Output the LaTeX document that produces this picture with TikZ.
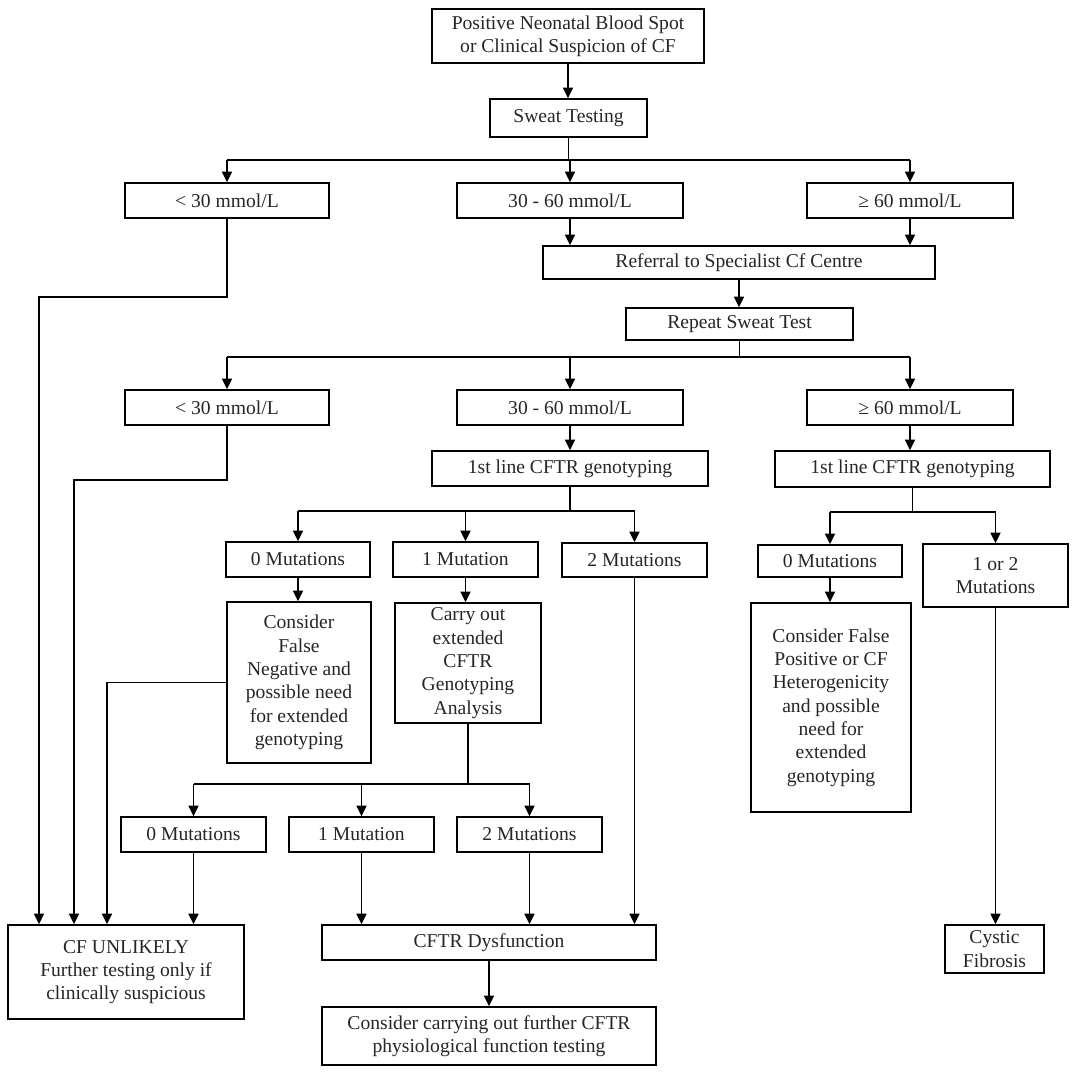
\documentclass[tikz,border=0pt]{standalone}
\usepackage{fontspec}
\setmainfont{Liberation Serif}
\usetikzlibrary{arrows.meta,calc}
\tikzset{
  box/.style={draw, line width=1.1pt, inner sep=0pt, align=center,
    font=\fontsize{14.7}{17.5}\selectfont, text=black!85},
  ln/.style={line width=1.1pt},
  arr/.style={-{Triangle[length=8pt,width=7.5pt]}},
}
\newcommand\bx[6]{\node[box, minimum width={(#4-#2)*0.75pt}, minimum height={(#5-#3)*0.75pt}] (#1) at ({(#2+#4)/2},{(#3+#5)/2}) {#6};}
\begin{document}
\begin{tikzpicture}[x=0.75pt,y=-0.75pt]
\fill[white] (0,0) rectangle (1084,1071);
\useasboundingbox (0,0) rectangle (1084,1071);
% nodes
\bx{top}{432}{9}{704}{63}{Positive Neonatal Blood Spot\\or Clinical  Suspicion of CF}
\bx{sweat}{490}{99}{647}{137}{Sweat Testing}
\bx{a1}{125}{183}{329}{218}{< 30 mmol/L}
\bx{a2}{457}{183}{683}{218}{30 - 60 mmol/L}
\bx{a3}{807}{183}{1013}{218}{≥ 60 mmol/L}
\bx{ref}{543}{246}{935}{279}{Referral to Specialist Cf Centre}
\bx{rep}{626}{308}{853}{340}{Repeat Sweat  Test}
\bx{b1}{125}{390}{329}{425}{< 30 mmol/L}
\bx{b2}{457}{390}{683}{425}{30 - 60 mmol/L}
\bx{b3}{807}{390}{1013}{425}{≥ 60 mmol/L}
\bx{g1}{432}{451}{708}{486}{1st line  CFTR genotyping}
\bx{g2}{775}{451}{1050}{487}{1st line  CFTR genotyping}
\bx{m0}{226}{542}{370}{577}{0 Mutations}
\bx{m1}{393}{542}{538}{577}{1 Mutation}
\bx{m2}{562}{543}{707}{577}{2 Mutations}
\bx{r0}{758}{545}{902}{577}{0 Mutations}
\bx{r12}{923}{544}{1068}{607}{1 or 2\\Mutations}
\bx{fn}{227}{602}{371}{763}{Consider\\False\\Negative  and\\possible need\\for extended\\genotyping}
\bx{co}{395}{603}{541}{723}{Carry out\\extended\\CFTR\\Genotyping\\Analysis}
\bx{fp}{751}{603}{911}{812}{Consider False\\Positive or CF\\Heterogenicity\\and possible\\need for\\extended\\genotyping}
\bx{n0}{121}{817}{266}{852}{0 Mutations}
\bx{n1}{289}{817}{434}{852}{1 Mutation}
\bx{n2}{457}{817}{602}{852}{2 Mutations}
\bx{cfu}{8}{925}{244}{1019}{CF UNLIKELY\\Further testing only if\\clinically  suspicious}
\bx{dys}{322}{925}{656}{960}{CFTR Dysfunction}
\bx{fc}{322}{1007}{656}{1065}{Consider carrying out further CFTR\\physiological function testing}
\bx{cyst}{945}{925}{1044}{973}{Cystic\\Fibrosis}
% connectors
\draw[ln,arr] (top.south) -- (top.south |- sweat.north);
\coordinate (j1) at (568,160);
\draw[ln] (sweat.south) -- (sweat.south |- j1);
\draw[ln] (a1.north |- j1) -- (a3.north |- j1);
\foreach \n in {a1,a2,a3} \draw[ln,arr] (\n.north |- j1) -- (\n.north);
\coordinate (k1) at (39,297);
\draw[ln,arr] (a1.south) |- (k1) -- (k1 |- cfu.north);
\draw[ln,arr] (a2.south) -- (a2.south |- ref.north);
\draw[ln,arr] (a3.south) -- (a3.south |- ref.north);
\draw[ln,arr] (ref.south) -- (ref.south |- rep.north);
\coordinate (j2) at (739,357);
\draw[ln] (rep.south) -- (rep.south |- j2);
\draw[ln] (b1.north |- j2) -- (b3.north |- j2);
\foreach \n in {b1,b2,b3} \draw[ln,arr] (\n.north |- j2) -- (\n.north);
\coordinate (k2) at (74,480);
\draw[ln,arr] (b1.south) |- (k2) -- (k2 |- cfu.north);
\draw[ln,arr] (b2.south) -- (b2.south |- g1.north);
\draw[ln,arr] (b3.south) -- (b3.south |- g2.north);
\coordinate (j3) at (570,511);
\draw[ln] (g1.south) -- (g1.south |- j3);
\draw[ln] (m0.north |- j3) -- (m2.north |- j3);
\foreach \n in {m0,m1,m2} \draw[ln,arr] (\n.north |- j3) -- (\n.north);
\draw[ln,arr] (m0.south) -- (m0.south |- fn.north);
\draw[ln,arr] (m1.south) -- (m1.south |- co.north);
\coordinate (k3) at (107,682);
\draw[ln,arr] (fn.west) -- (fn.west -| k3) -- (k3 |- cfu.north);
\coordinate (j4) at (468,784);
\draw[ln] (co.south) -- (co.south |- j4);
\draw[ln] (n0.north |- j4) -- (n2.north |- j4);
\foreach \n in {n0,n1,n2} \draw[ln,arr] (\n.north |- j4) -- (\n.north);
\draw[ln,arr] (n0.south) -- (n0.south |- cfu.north);
\draw[ln,arr] (n1.south) -- (n1.south |- dys.north);
\draw[ln,arr] (n2.south) -- (n2.south |- dys.north);
\draw[ln,arr] (m2.south) -- (m2.south |- dys.north);
\draw[ln,arr] (dys.south) -- (fc.north);
\coordinate (j5) at (912,512);
\draw[ln] (g2.south) -- (g2.south |- j5);
\draw[ln] (r0.north |- j5) -- (r12.north |- j5);
\foreach \n in {r0,r12} \draw[ln,arr] (\n.north |- j5) -- (\n.north);
\draw[ln,arr] (r0.south) -- (r0.south |- fp.north);
\draw[ln,arr] (r12.south) -- (r12.south |- cyst.north);
\end{tikzpicture}
\end{document}
